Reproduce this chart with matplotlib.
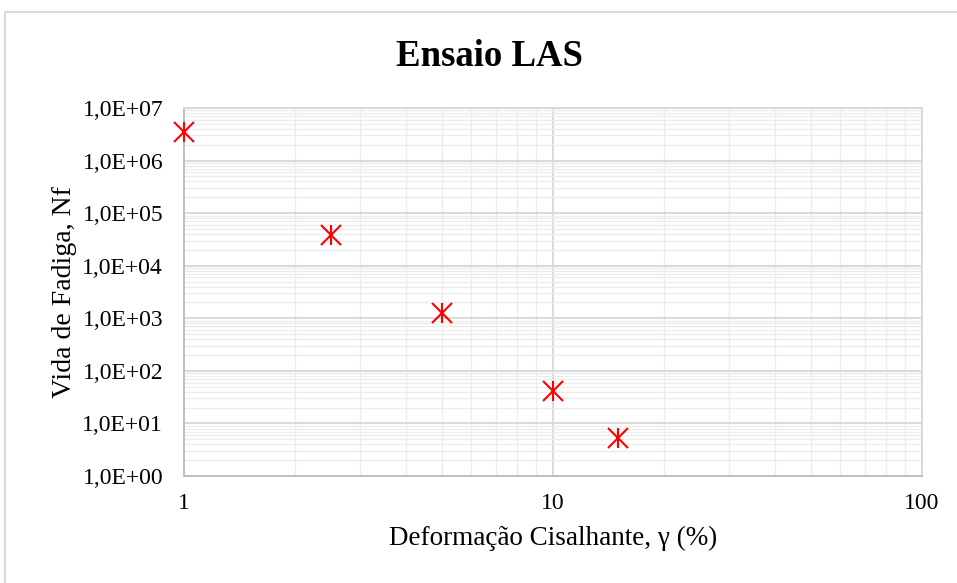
import matplotlib.pyplot as plt
from matplotlib.patches import Rectangle
from matplotlib.ticker import LogLocator, FixedLocator, FuncFormatter

# data
deformacao = [1, 2.5, 5, 10, 15]          # gamma (%)
vida_fadiga = [3.5e6, 3.85e4, 1.27e3, 42, 5.3]   # Nf

x_ticks = [1, 10, 100]
x_tick_labels = ["1", "10", "100"]
y_ticks = [1e0, 1e1, 1e2, 1e3, 1e4, 1e5, 1e6, 1e7]
y_tick_labels = ["1,0E+00", "1,0E+01", "1,0E+02", "1,0E+03",
                 "1,0E+04", "1,0E+05", "1,0E+06", "1,0E+07"]

plt.rcParams['font.family'] = ['Liberation Serif', 'DejaVu Serif']

fig = plt.figure(figsize=(9.57, 5.83), dpi=100)
ax = fig.add_axes([184 / 957, 1 - 476 / 583, (922 - 184) / 957, (476 - 108) / 583])

# outer chart border like excel
fig.patches.append(Rectangle((5 / 957, -0.05), 1.0, 1 - 12 / 583 + 0.05,
                             transform=fig.transFigure, fill=False,
                             edgecolor='#d9d9d9', linewidth=1.5))

# excel "star" marker = x plus vertical bar
for m in ['x', '|']:
    ax.plot(deformacao, vida_fadiga, linestyle='none', marker=m,
            markersize=15, markeredgewidth=1.5, color='#ff0000',
            clip_on=False, zorder=5)

ax.set_xscale('log')
ax.set_yscale('log')
ax.set_xlim(1, 100)
ax.set_ylim(1, 1e7)

ax.xaxis.set_major_locator(FixedLocator(x_ticks))
ax.xaxis.set_major_formatter(FuncFormatter(lambda v, p: x_tick_labels[x_ticks.index(v)] if v in x_ticks else ""))
ax.yaxis.set_major_locator(FixedLocator(y_ticks))
ax.yaxis.set_major_formatter(FuncFormatter(lambda v, p: y_tick_labels[y_ticks.index(v)] if v in y_ticks else ""))
ax.xaxis.set_minor_locator(LogLocator(base=10, subs=range(2, 10), numticks=100))
ax.yaxis.set_minor_locator(LogLocator(base=10, subs=range(2, 10), numticks=100))
ax.xaxis.set_minor_formatter(FuncFormatter(lambda v, p: ""))
ax.yaxis.set_minor_formatter(FuncFormatter(lambda v, p: ""))

ax.tick_params(which='both', length=0)
ax.tick_params(axis='x', labelsize=17, pad=12)
ax.tick_params(axis='y', labelsize=17, pad=15)

ax.grid(True, which='major', color='#d9d9d9', linewidth=1.4)
ax.grid(True, which='minor', color='#ececec', linewidth=1.0)
ax.set_axisbelow(True)

for s in ax.spines.values():
    s.set_color('#d9d9d9')
    s.set_linewidth(1.4)
ax.spines['left'].set_color('#bfbfbf')
ax.spines['bottom'].set_color('#bfbfbf')

fig.text(490 / 957, 1 - 57 / 583, "Ensaio LAS", fontsize=26.5, fontweight='bold',
         ha='center', va='center')
ax.set_xlabel("Deformação Cisalhante, γ (%)", fontsize=19.5, labelpad=9)
ax.set_ylabel("Vida de Fadiga, Nf", fontsize=20, labelpad=4)

fig.savefig("out.png", dpi=100)
